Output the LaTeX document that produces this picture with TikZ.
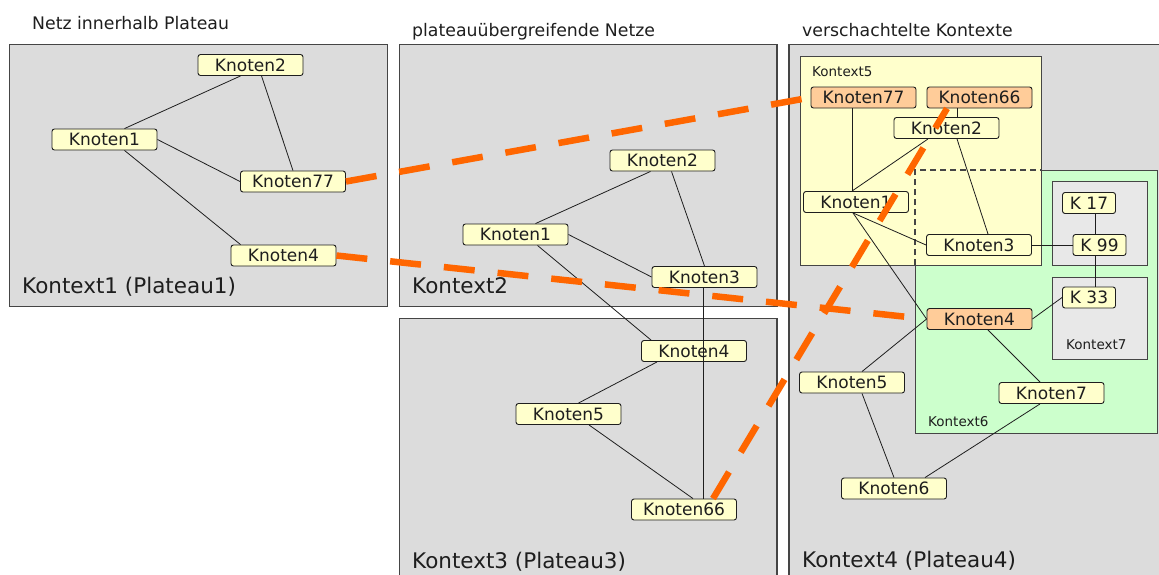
\documentclass[tikz,border=0pt]{standalone}
\usepackage{fontspec}
\setmainfont{DejaVu Sans}
\definecolor{panelgrey}{HTML}{DCDCDC}
\definecolor{panelline}{HTML}{454545}
\definecolor{knotyellow}{HTML}{FFFFCC}
\definecolor{knotorange}{HTML}{FFCC99}
\definecolor{ctxgreen}{HTML}{CCFFCC}
\definecolor{innergrey}{HTML}{E8E8E8}
\definecolor{bridgeorange}{HTML}{FF6600}
\definecolor{inkgrey}{HTML}{1E1E1E}
\begin{document}
\begin{tikzpicture}[x=1pt,y=-1pt,
  panel/.style={draw=panelline, fill=panelgrey, line width=1.3pt},
  ctxbox/.style={draw=panelline, line width=1pt},
  knot/.style={draw=inkgrey, fill=knotyellow, rounded corners=2.5pt,
    minimum width=105pt, minimum height=21pt, inner sep=0pt,
    font=\fontsize{17}{17}\selectfont, text=inkgrey, line width=0.9pt},
  hot/.style={knot, fill=knotorange},
  kbox/.style={knot, minimum width=53pt},
  link/.style={draw=inkgrey, line width=0.8pt},
  bridge/.style={draw=bridgeorange, line width=6.5pt, dash pattern=on 31pt off 23pt},
  heading/.style={anchor=base west, inner sep=0pt, text=inkgrey,
    font=\fontsize{17.3}{17.3}\selectfont},
  ctxbig/.style={anchor=base west, inner sep=0pt, text=inkgrey,
    font=\fontsize{21.5}{21.5}\selectfont},
  ctxsmall/.style={anchor=base west, inner sep=0pt, text=inkgrey,
    font=\fontsize{13.5}{13.5}\selectfont},
]
\useasboundingbox (0,0) rectangle (1159,574);
\clip (0,0) rectangle (1159,574);

% plateaus
\draw[panel] (9.5,44.5) rectangle (387.5,306.5);
\draw[panel] (399.5,44.5) rectangle (777,306.5);
\draw[panel] (399.5,318.5) rectangle (777,600);
\draw[panel] (789,44.5) rectangle (1180,600);

% nested contexts in plateau 4
\draw[ctxbox, fill=ctxgreen] (915,170) rectangle (1157,433);
\draw[ctxbox, fill=knotyellow] (800,56) rectangle (1041,265);
\draw[ctxbox, line width=1.2pt, dash pattern=on 6pt off 4pt] (915,265) -- (915,170) -- (1041,170);
\draw[ctxbox, fill=innergrey] (1052,181) rectangle (1147,265);
\draw[ctxbox, fill=innergrey] (1052,277) rectangle (1147,359);

% headings and context labels
\node[heading] (t1) at (32,29) {Netz innerhalb Plateau};
\node[heading] (t2) at (412,36) {plateauübergreifende Netze};
\node[heading] (t3) at (802,36) {verschachtelte Kontexte};
\node[ctxbig] (c1) at (22,293) {Kontext1 (Plateau1)};
\node[ctxbig] (c2) at (412,293) {Kontext2};
\node[ctxbig] (c3) at (412,568) {Kontext3 (Plateau3)};
\node[ctxbig] (c4) at (802,567) {Kontext4 (Plateau4)};
\node[ctxsmall] (c5) at (812,76) {Kontext5};
\node[ctxsmall] (c6) at (928,426) {Kontext6};
\node[ctxsmall] (c7) at (1066,349) {Kontext7};

% plateau 1
\node[knot] (p1k2) at (250.5,65) {Knoten2};
\node[knot] (p1k1) at (104.5,139.5) {Knoten1};
\node[knot] (p1k77) at (293,181.5) {Knoten77};
\node[knot] (p1k4) at (283.5,255.5) {Knoten4};

% plateau 2
\node[knot] (p2k2) at (662.5,160.5) {Knoten2};
\node[knot] (p2k1) at (515.5,234.5) {Knoten1};
\node[knot] (p2k3) at (704.5,277) {Knoten3};

% plateau 3
\node[knot] (p3k4) at (694,351) {Knoten4};
\node[knot] (p3k5) at (568.5,414) {Knoten5};
\node[knot] (p3k66) at (684,509.5) {Knoten66};

% plateau 4
\node[hot] (p4k77) at (863.5,97.5) {Knoten77};
\node[hot] (p4k66) at (979.5,97.5) {Knoten66};
\node[knot] (p4k2) at (946.5,128) {Knoten2};
\node[knot] (p4k1) at (856,202) {Knoten1};
\node[knot] (p4k3) at (979,245) {Knoten3};
\node[hot] (p4k4) at (979.5,319) {Knoten4};
\node[knot] (p4k5) at (852,382.5) {Knoten5};
\node[knot] (p4k7) at (1051.5,393) {Knoten7};
\node[knot] (p4k6) at (894,488.5) {Knoten6};
\node[kbox] (k17) at (1089,203) {K 17};
\node[kbox] (k99) at (1099.5,245) {K 99};
\node[kbox] (k33) at (1089,297.5) {K 33};

% links inside plateau 1
\draw[link] ([xshift=20]p1k1.north) -- ([xshift=-10]p1k2.south);
\draw[link] ([xshift=11]p1k2.south) -- (p1k77.north);
\draw[link] (p1k1.east) -- (p1k77.west);
\draw[link] ([xshift=20]p1k1.south) -- ([xshift=-43]p1k4.north);

% links across plateaus 2 and 3
\draw[link] ([xshift=20]p2k1.north) -- ([xshift=-12]p2k2.south);
\draw[link] ([xshift=9]p2k2.south) -- (p2k3.north);
\draw[link] (p2k1.east) -- (p2k3.west);
\draw[link] ([xshift=22]p2k1.south) -- ([xshift=-43]p3k4.north);
\draw[link] ([xshift=-1]p2k3.south) -- ([xshift=-1]p2k3.south |- p3k66.north);
\draw[link] ([xshift=-37]p3k4.south) -- ([xshift=10]p3k5.north);
\draw[link] ([xshift=20.5]p3k5.south) -- ([xshift=9]p3k66.north);

% links inside plateau 4
\draw[link] ([xshift=-11]p4k77.south) -- ([xshift=-11]p4k77.south |- p4k1.north);
\draw[link] ([xshift=-22.5]p4k66.south) -- ([xshift=-22.5]p4k66.south |- p4k2.north);
\draw[link] ([xshift=-4]p4k1.north) -- ([xshift=-18.5]p4k2.south);
\draw[link] ([xshift=10.5]p4k2.south) -- ([xshift=9]p4k3.north);
\draw[link] ([xshift=-3]p4k1.south) -- (p4k3.west);
\draw[link] ([xshift=-3]p4k1.south) -- (p4k4.west);
\draw[link] (p4k3.east) -- (k99.west);
\draw[link] ([xshift=6]k17.south) -- ([xshift=6]k17.south |- k99.north);
\draw[link] ([xshift=6]k17.south |- k99.south) -- ([xshift=6]k17.south |- k33.north);
\draw[link] (k33.west) -- (p4k4.east);
\draw[link] ([xshift=8.5]p4k4.south) -- ([xshift=-11.5]p4k7.north);
\draw[link] (p4k4.west) -- ([xshift=10]p4k5.north);
\draw[link] ([xshift=10]p4k5.south) -- (p4k6.north);
\draw[link] ([xshift=-11.5]p4k7.south) -- ([xshift=31]p4k6.north);

% cross-plateau identities
\draw[bridge] (p1k77.east) -- (p4k77.west);
\draw[bridge] (p1k4.east) -- (p4k4.west);
\draw[bridge] ([xshift=29]p3k66.north) -- ([xshift=-32.5]p4k66.south);
\end{tikzpicture}
\end{document}
